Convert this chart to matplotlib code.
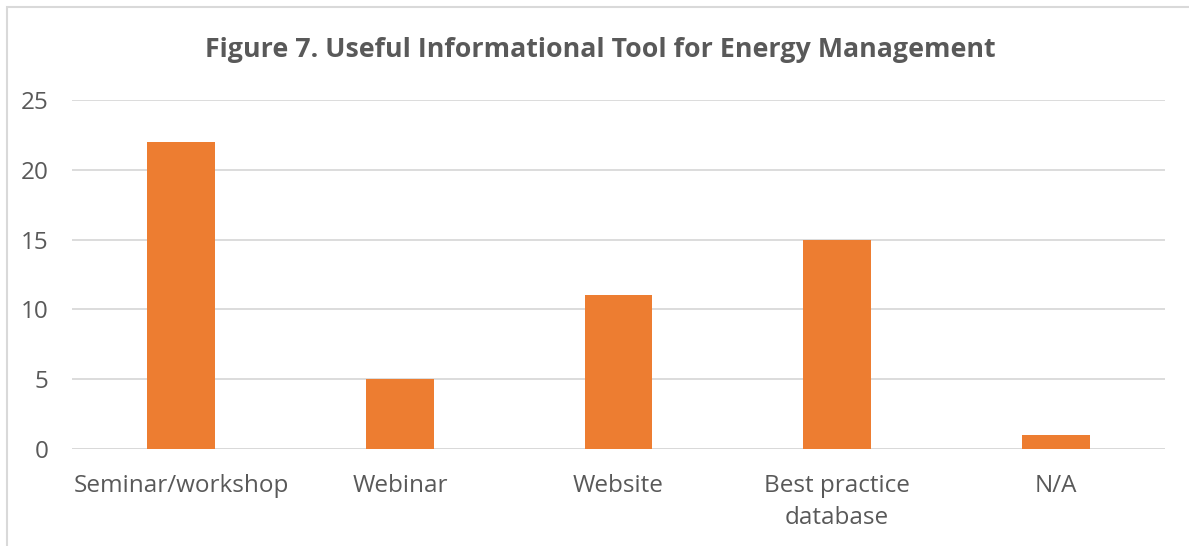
import matplotlib
matplotlib.use("Agg")
import matplotlib.pyplot as plt
from matplotlib.patches import Rectangle
import numpy as np

categories = ["Seminar/workshop", "Webinar", "Website", "Best practice\ndatabase", "N/A"]
values = [22, 5, 11, 15, 1]
yticks = [0, 5, 10, 15, 20, 25]
title = "Figure 7. Useful Informational Tool for Energy Management"

plt.rcParams['font.family'] = ['Open Sans', 'DejaVu Sans']

W, H = 1189, 546
fig = plt.figure(figsize=(W / 100, H / 100), dpi=100)
fig.patch.set_facecolor("white")

# chart border (extends beyond right/bottom edges)
fig.patches.append(Rectangle((7 / W, -0.1), 1.2, (H - 7) / H + 0.1,
                             transform=fig.transFigure, fill=False,
                             edgecolor="#d9d9d9", linewidth=1.5))

left, right = 72, 1165
top, bottom = 100, 449
ax = fig.add_axes([left / W, 1 - bottom / H, (right - left) / W, (bottom - top) / H])

x = np.arange(len(categories))
ax.bar(x, values, width=0.31, color="#ED7D31", zorder=3)
ax.set_xlim(-0.5, len(categories) - 0.5)
ax.set_ylim(0, 25)
ax.set_yticks(yticks)
ax.set_yticklabels([str(t) for t in yticks])
ax.set_xticks(x)
ax.set_xticklabels(categories)

for s in ax.spines.values():
    s.set_visible(False)
ax.grid(axis="y", color="#d9d9d9", linewidth=1.3, zorder=0)
ax.axhline(0, color="#d9d9d9", linewidth=2, zorder=2)
ax.tick_params(axis="both", length=0, labelsize=17.5, colors="#595959")
ax.tick_params(axis="y", pad=17)
ax.tick_params(axis="x", pad=18)
for lbl in ax.get_xticklabels():
    lbl.set_linespacing(1.45)

fig.text(600 / W, 1 - 50 / H, title, ha="center", va="center",
         fontsize=19.3, fontweight="bold", color="#595959")

fig.savefig("out.png", dpi=100)
